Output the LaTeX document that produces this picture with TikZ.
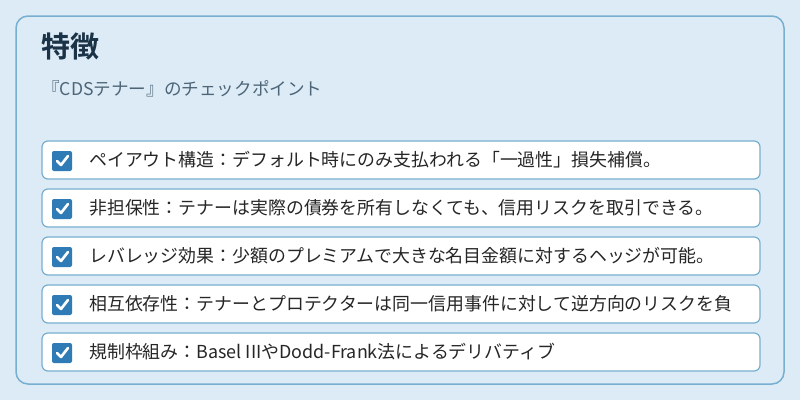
\documentclass[tikz,border=0pt]{standalone}
\usepackage{fontspec}
\newfontfamily\cjk{Noto Sans CJK JP}
\newfontfamily\cjkb{Noto Sans CJK JP Bold}
\definecolor{bg}{HTML}{DCEBF6}
\definecolor{bd}{HTML}{78AFD0}
\definecolor{ck}{HTML}{2F7BB5}
\definecolor{tt}{HTML}{1B3347}
\definecolor{st}{HTML}{4D6577}
\begin{document}
\begin{tikzpicture}[x=1pt,y=-1pt,
  row/.style={draw=bd,line width=1.2pt,fill=white,rounded corners=6pt},
  chk/.style={fill=ck,rounded corners=2pt,minimum size=20pt,inner sep=0pt},
  itm/.style={anchor=west,font=\cjk\fontsize{17.9}{20}\selectfont,text=black!85,inner sep=0pt}]
\fill[bg] (0,0) rectangle (800,400);
\useasboundingbox (0,0) rectangle (800,400);
\draw[draw=bd,line width=1.5pt,fill=bg,rounded corners=12pt] (16,16) rectangle (784,384);
\node[anchor=west,font=\cjkb\fontsize{29}{32}\selectfont,text=tt,inner sep=0pt] (title) at (41,47) {特徴};
\node[anchor=west,font=\cjk\fontsize{17.6}{20}\selectfont,text=st,inner sep=0pt] (sub) at (42,89) {『CDSテナー』のチェックポイント};
\foreach \i/\t in {0/{ペイアウト構造：デフォルト時にのみ支払われる「一過性」損失補償。},
 1/{非担保性：テナーは実際の債券を所有しなくても、信用リスクを取引できる。},
 2/{レバレッジ効果：少額のプレミアムで大きな名目金額に対するヘッジが可能。},
 3/{相互依存性：テナーとプロテクターは同一信用事件に対して逆方向のリスクを負},
 4/{規制枠組み：Basel IIIやDodd-Frank法によるデリバティブ}}{
  \pgfmathsetmacro\yy{141+48*\i}
  \draw[row] (42,\yy) rectangle (760,\yy+38);
  \node[chk] (c\i) at (62,\yy+20) {};
  \draw[white,line width=2.6pt,line cap=round,line join=round] ([shift={(-5,0)}]c\i.center) -- ([shift={(-1,4)}]c\i.center) -- ([shift={(6,-5)}]c\i.center);
  \node[itm] (t\i) at (89,\yy+19) {\t};
}
\end{tikzpicture}
\end{document}
